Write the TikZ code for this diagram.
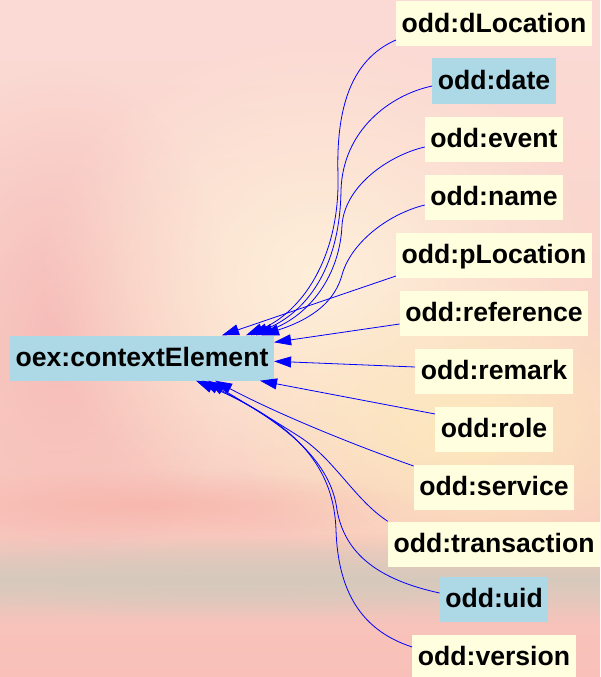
\documentclass[tikz,border=0pt]{standalone}
\usepackage{fontspec}
\setmainfont{Liberation Sans}
\usetikzlibrary{arrows.meta,fadings}
\tikzfading[name=myglow, inner color=transparent!0, outer color=transparent!100]
\tikzfading[name=vband, top color=transparent!100, bottom color=transparent!100, middle color=transparent!0]
\definecolor{cream}{RGB}{255,255,224}
\definecolor{lblue}{RGB}{173,216,230}
\definecolor{edgeblue}{RGB}{0,0,255}
\definecolor{bgtop}{RGB}{251,218,214}
\definecolor{bgmid}{RGB}{250,212,200}
\definecolor{bgbot}{RGB}{248,192,184}
\definecolor{bgpink}{RGB}{245,178,178}
\definecolor{bgsalmon}{RGB}{247,178,168}
\definecolor{bgglow}{RGB}{254,240,218}
\definecolor{bgyellow}{RGB}{253,234,188}
\definecolor{bggray}{RGB}{212,202,188}
\begin{document}
\begin{tikzpicture}[x=1pt,y=-1pt,
  box/.style={fill=cream, draw=none, font=\fontsize{26.6}{30}\selectfont\bfseries,
    inner xsep=5.5pt, inner ysep=9pt, text height=22pt, text depth=5pt},
  bluebox/.style={box, fill=lblue},
  edge/.style={draw=edgeblue, line width=0.8pt, -{Triangle[length=17pt,width=11pt]}}]
% background
\useasboundingbox (0,0) rectangle (600,677);
\fill[top color=bgtop, bottom color=bgbot, middle color=bgmid] (0,0) rectangle (600,677);
\fill[bgpink, opacity=0.7, path fading=myglow] (60,330) ellipse [x radius=170, y radius=260];
\fill[bgglow, path fading=myglow] (320,280) ellipse [x radius=280, y radius=250];
\fill[bgyellow, opacity=0.95, path fading=myglow] (470,430) ellipse [x radius=240, y radius=160];
\fill[bgsalmon, opacity=0.7, path fading=myglow] (150,505) ellipse [x radius=260, y radius=35];
\fill[bggray, opacity=0.95, path fading=vband] (0,535) rectangle (600,625);
\fill[bggray, opacity=0.6, path fading=myglow] (230,578) ellipse [x radius=300, y radius=40];
% nodes
\node[bluebox] (ce) at (142,358) {oex:contextElement};
\node[box] (dl) at (494,24) {odd:dLocation};
\node[bluebox] (date) at (494,81) {odd:date};
\node[box] (ev) at (494,139) {odd:event};
\node[box] (nm) at (494,197) {odd:name};
\node[box] (pl) at (494,255) {odd:pLocation};
\node[box] (rf) at (494,313) {odd:reference};
\node[box] (rm) at (494,371) {odd:remark};
\node[box] (ro) at (494,429) {odd:role};
\node[box] (sv) at (494,487) {odd:service};
\node[box] (tr) at (494,544) {odd:transaction};
\node[bluebox] (ud) at (494,599) {odd:uid};
\node[box] (vr) at (494,657) {odd:version};
% edges
\draw[edge] ([yshift=-16pt]dl.west) .. controls (350,60) and (336,110) .. (338,175)
  .. controls (340,260) and (300,313) .. ([xshift=104pt]ce.north);
\draw[edge] ([yshift=-5pt]date.west) .. controls (390,95) and (343,130) .. (341,190)
  .. controls (340,270) and (305,313) .. ([xshift=109pt]ce.north);
\draw[edge] ([yshift=-8pt]ev.west) .. controls (390,155) and (345,185) .. (342,225)
  .. controls (340,275) and (310,315) .. ([xshift=114pt]ce.north);
\draw[edge] ([yshift=-8pt]nm.west) .. controls (385,215) and (350,245) .. (342,275)
  .. controls (335,300) and (315,318) .. ([xshift=120pt]ce.north);
\draw[edge] ([yshift=-21pt]pl.west) -- ([xshift=80pt]ce.north);
\draw[edge] ([yshift=-11pt]rf.west) -- ([yshift=-7pt]ce.north east);
\draw[edge] ([yshift=4pt]rm.west) -- ([yshift=-26pt]ce.north east);
\draw[edge] ([yshift=15pt]ro.west) -- ([xshift=118pt]ce.south);
\draw[edge] ([yshift=21pt]sv.west) .. controls (340,440) and (270,410) .. ([xshift=73pt]ce.south);
\draw[edge] (tr.north west) .. controls (355,500) and (335,460) .. (300,437)
  .. controls (270,418) and (240,400) .. ([xshift=66pt]ce.south);
\draw[edge] ([yshift=6pt]ud.west) .. controls (380,580) and (345,555) .. (337,510)
  .. controls (332,470) and (300,430) .. ([xshift=60pt]ce.south);
\draw[edge] ([yshift=10pt]vr.west) .. controls (360,630) and (338,590) .. (336,530)
  .. controls (334,470) and (300,425) .. ([xshift=54pt]ce.south);
\end{tikzpicture}
\end{document}
